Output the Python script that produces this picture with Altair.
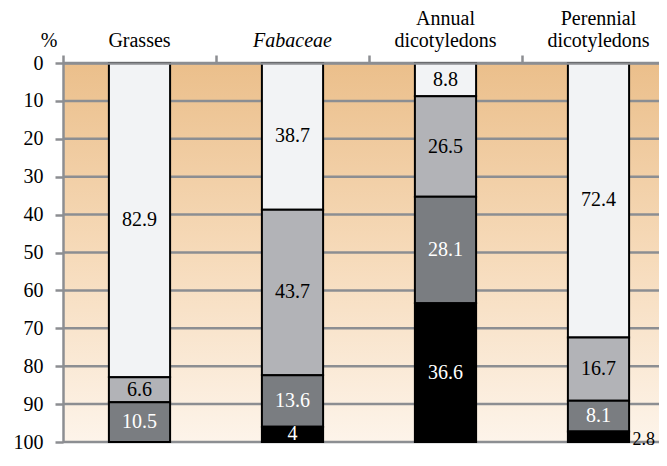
import altair as alt
import pandas as pd

categories = ["Grasses", "Fabaceae", "Annual\ndicotyledons", "Perennial\ndicotyledons"]
classes = ["white", "light", "dark", "black"]
grasses = [82.9, 6.6, 10.5, 0.0]
fabaceae = [38.7, 43.7, 13.6, 4.0]
annual = [8.8, 26.5, 28.1, 36.6]
perennial = [72.4, 16.7, 8.1, 2.8]
class_colors = ["#f2f3f5", "#b2b3b7", "#7a7d81", "#000000"]
text_colors = ["#000000", "#000000", "#ffffff", "#ffffff"]
y_ticks = list(range(0, 101, 10))
x_ticks = [0, 1, 2, 3]

series = [grasses, fabaceae, annual, perennial]
rows = []
for k, (cat, vals) in enumerate(zip(categories, series)):
    start = 0.0
    for i, (cls, v) in enumerate(zip(classes, vals)):
        if v <= 0:
            continue
        end = start + v
        rows.append({"cat": cat, "pos": k + 0.5, "cls": cls, "value": v, "y0": start,
                     "y1": end, "mid": (start + end) / 2, "label": f"{v:g}",
                     "tcolor": text_colors[i], "outside": v < 3})
        start = end
df = pd.DataFrame(rows)
cat_df = pd.DataFrame({"cat": categories, "pos": [k + 0.5 for k in range(len(categories))]})
pct_df = pd.DataFrame({"t": ["%"]})
grid_df = pd.DataFrame({"t": y_ticks})

GRAY = "#8c8e92"
FONT = "Liberation Serif, DejaVu Serif, Times New Roman, serif"
W, H = 596, 379
BAND = 153  # pixel width of one category slot

x_scale = alt.Scale(domain=[0, W / BAND], nice=False, zero=False)
y_scale = alt.Scale(domain=[0, 100], reverse=True, nice=False, zero=False)
x_axis = alt.Axis(orient="top", labels=False, ticks=True, values=x_ticks, tickSize=8,
                  tickColor=GRAY, tickWidth=2.5, domain=True, domainColor=GRAY,
                  domainWidth=2.5, grid=False, title=None, zindex=1)
y_axis = alt.Axis(values=y_ticks, grid=False,
                  domainColor=GRAY, domainWidth=2.5, tickColor=GRAY, tickWidth=2.5,
                  tickSize=8, labelFont=FONT, labelFontSize=20, labelColor="black",
                  labelPadding=12, labelFlush=False, labelOverlap=False, title=None,
                  zindex=1)

X = alt.X("pos:Q", scale=x_scale, axis=x_axis)

bg = alt.Chart(pct_df).mark_rect(
    color=alt.LinearGradient(
        gradient="linear",
        stops=[alt.GradientStop(color="#ebbf8b", offset=0),
               alt.GradientStop(color="#f6dab9", offset=0.5),
               alt.GradientStop(color="#fdf4ea", offset=1)],
        x1=0, x2=0, y1=0, y2=1,
    )
).encode(x=alt.value(0), x2=alt.value(W), y=alt.value(0), y2=alt.value(H))

grid = alt.Chart(grid_df).mark_rule(color=GRAY, strokeWidth=2.5).encode(
    y=alt.Y("t:Q", scale=y_scale, axis=y_axis)
)

bars = alt.Chart(df).transform_calculate(
    xa="datum.pos - 0.2", xb="datum.pos + 0.2"
).mark_rect(stroke="black", strokeWidth=2).encode(
    x=alt.X("xa:Q", scale=x_scale, axis=x_axis),
    x2="xb:Q",
    y=alt.Y("y0:Q", scale=y_scale, axis=y_axis),
    y2="y1:Q",
    color=alt.Color("cls:N", scale=alt.Scale(domain=classes, range=class_colors), legend=None),
)

inside = alt.Chart(df).transform_filter("!datum.outside").mark_text(
    font=FONT, fontSize=20, baseline="middle", align="center"
).encode(
    x=X,
    y=alt.Y("mid:Q", scale=y_scale, axis=y_axis),
    text="label:N",
    color=alt.Color("tcolor:N", scale=None),
)

outside = alt.Chart(df).transform_filter("datum.outside").mark_text(
    font=FONT, fontSize=18, baseline="middle", align="left", dx=34, dy=-2
).encode(
    x=X,
    y=alt.Y("y1:Q", scale=y_scale, axis=y_axis),
    text="label:N",
    color=alt.value("black"),
)

cat_one = alt.Chart(cat_df).transform_filter(
    "indexof(datum.cat, '\\n') < 0 && datum.cat != 'Fabaceae'"
).mark_text(
    font=FONT, fontSize=20, baseline="alphabetic", align="center", color="black"
).encode(x=X, y=alt.value(-16), text="cat:N")

cat_two = alt.Chart(cat_df).transform_filter("indexof(datum.cat, '\\n') >= 0").mark_text(
    font=FONT, fontSize=20, baseline="alphabetic", align="center", lineBreak="\n",
    lineHeight=22, color="black"
).encode(x=X, y=alt.value(-38), text="cat:N")

cat_italic = alt.Chart(cat_df).transform_filter("datum.cat == 'Fabaceae'").mark_text(
    font=FONT, fontSize=20, baseline="alphabetic", align="center", fontStyle="italic",
    color="black"
).encode(x=X, y=alt.value(-16), text="cat:N")

pct = alt.Chart(pct_df).mark_text(
    font=FONT, fontSize=20, baseline="alphabetic", align="center", color="black"
).encode(x=alt.value(-14), y=alt.value(-16), text="t:N")

chart = alt.layer(bg, grid, bars, inside, outside, cat_one, cat_two, cat_italic, pct).properties(
    width=W, height=H,
    autosize=alt.AutoSizeParams(type="none"),
    padding={"left": 55, "top": 55, "right": 0, "bottom": 11},
).configure_view(stroke="transparent")

chart.save("out.html", embed_options={"renderer": "svg", "actions": False})
